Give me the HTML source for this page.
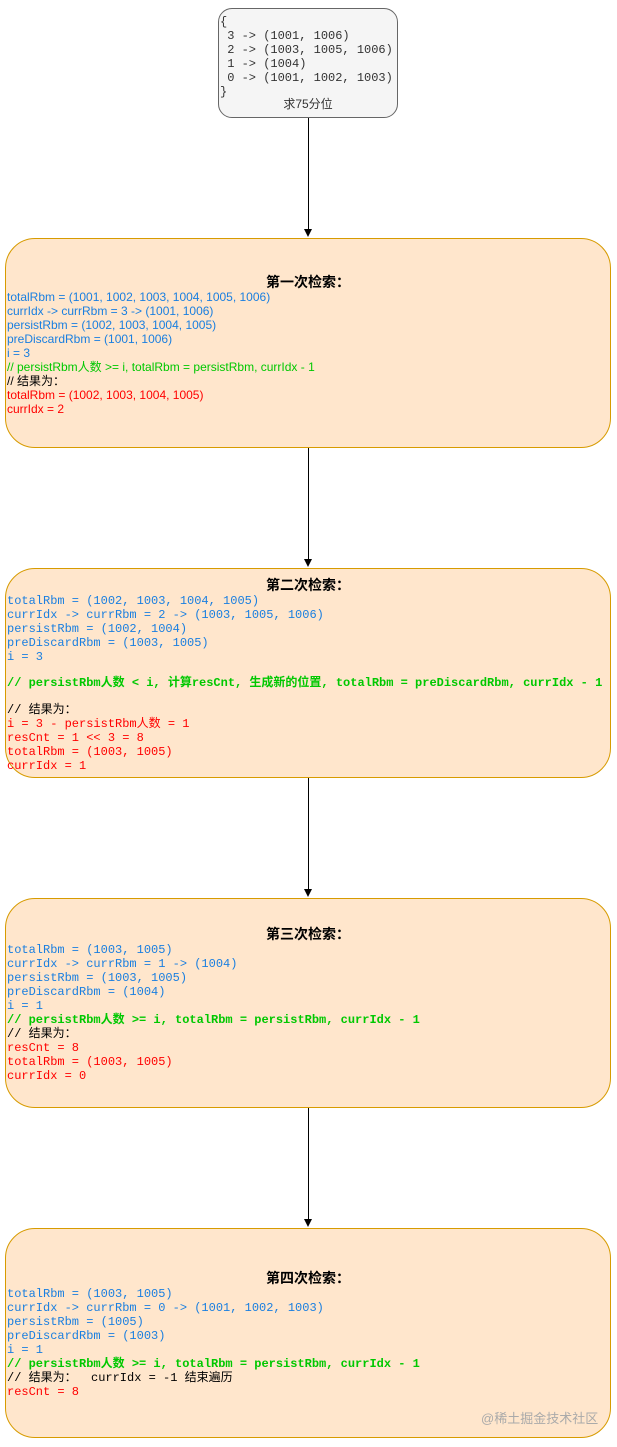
<!DOCTYPE html>
<html><head><meta charset="utf-8"><style>
body{margin:0;width:617px;height:1447px;background:#fff;position:relative;overflow:hidden;font-family:"Liberation Sans","Noto Sans CJK SC",sans-serif}
.box{position:absolute;left:5px;width:604px;height:208px;background:#ffe6cc;border:1px solid #d79b00;border-radius:30px}
.t{position:absolute;white-space:pre;line-height:14px}
.m{font-family:"Liberation Mono","Noto Sans CJK SC",monospace;font-size:12px}
.s{font-size:12px}
.b{color:#1a7fe0}.g{color:#00c800}.r{color:#ff0000}.k{color:#000}
.title{position:absolute;left:5px;width:606px;text-align:center;font-size:14px;font-weight:bold}
.v{position:absolute;left:308px;width:1px;background:#000}
.a{position:absolute;left:304px;width:0;height:0;border-left:4px solid transparent;border-right:4px solid transparent;border-top:8px solid #000}
</style></head><body>
<div style="position:absolute;left:218px;top:8px;width:180px;height:110px;background:#f5f5f5;border:1px solid #666;border-radius:14px;box-sizing:border-box"></div>
<div class="t" style="left:220px;top:15px;font-family:'Liberation Mono',monospace;font-size:12px;color:#333">{
 3 -&gt; (1001, 1006)
 2 -&gt; (1003, 1005, 1006)
 1 -&gt; (1004)
 0 -&gt; (1001, 1002, 1003)
}</div>
<div class="t" style="left:218px;width:180px;text-align:center;top:97px;font-size:12px;color:#333">求75分位</div>

<div class="v" style="top:118px;height:112px"></div><div class="a" style="top:229px"></div>
<div class="v" style="top:448px;height:112px"></div><div class="a" style="top:559px"></div>
<div class="v" style="top:778px;height:112px"></div><div class="a" style="top:889px"></div>
<div class="v" style="top:1108px;height:112px"></div><div class="a" style="top:1219px"></div>

<div class="box" style="top:238px"></div>
<div class="title" style="top:272px">第一次检索：</div>
<div class="t s" style="left:7px;top:290px"><span class="b">totalRbm = (1001, 1002, 1003, 1004, 1005, 1006)
currIdx -&gt; currRbm = 3 -&gt; (1001, 1006)
persistRbm = (1002, 1003, 1004, 1005)
preDiscardRbm = (1001, 1006)
i = 3</span>
<span class="g">// persistRbm人数 &gt;= i, totalRbm = persistRbm, currIdx - 1</span>
<span class="k">// 结果为：</span>
<span class="r">totalRbm = (1002, 1003, 1004, 1005)
currIdx = 2</span></div>

<div class="box" style="top:568px"></div>
<div class="title" style="top:575px">第二次检索：</div>
<div class="t m" style="left:7px;top:594px"><span class="b">totalRbm = (1002, 1003, 1004, 1005)
currIdx -&gt; currRbm = 2 -&gt; (1003, 1005, 1006)
persistRbm = (1002, 1004)
preDiscardRbm = (1003, 1005)
i = 3</span></div>
<div class="t m" style="left:7px;top:676px"><span class="g" style="font-weight:bold">// persistRbm人数 &lt; i, 计算resCnt, 生成新的位置, totalRbm = preDiscardRbm, currIdx - 1</span></div>
<div class="t m" style="left:7px;top:703px"><span class="k">// 结果为：</span>
<span class="r">i = 3 - persistRbm人数 = 1
resCnt = 1 &lt;&lt; 3 = 8
totalRbm = (1003, 1005)
currIdx = 1</span></div>

<div class="box" style="top:898px"></div>
<div class="title" style="top:924px">第三次检索：</div>
<div class="t m" style="left:7px;top:943px"><span class="b">totalRbm = (1003, 1005)
currIdx -&gt; currRbm = 1 -&gt; (1004)
persistRbm = (1003, 1005)
preDiscardRbm = (1004)
i = 1</span>
<span class="g" style="font-weight:bold">// persistRbm人数 &gt;= i, totalRbm = persistRbm, currIdx - 1</span>
<span class="k">// 结果为：</span>
<span class="r">resCnt = 8
totalRbm = (1003, 1005)
currIdx = 0</span></div>

<div class="box" style="top:1228px"></div>
<div class="title" style="top:1268px">第四次检索：</div>
<div class="t m" style="left:7px;top:1287px"><span class="b">totalRbm = (1003, 1005)
currIdx -&gt; currRbm = 0 -&gt; (1001, 1002, 1003)
persistRbm = (1005)
preDiscardRbm = (1003)
i = 1</span>
<span class="g" style="font-weight:bold">// persistRbm人数 &gt;= i, totalRbm = persistRbm, currIdx - 1</span>
<span class="k">// 结果为：  currIdx = -1 结束遍历</span>
<span class="r">resCnt = 8</span></div>
<div class="t" style="left:481px;top:1412px;font-size:13px;color:#aaa">@稀土掘金技术社区</div>
</body></html>
